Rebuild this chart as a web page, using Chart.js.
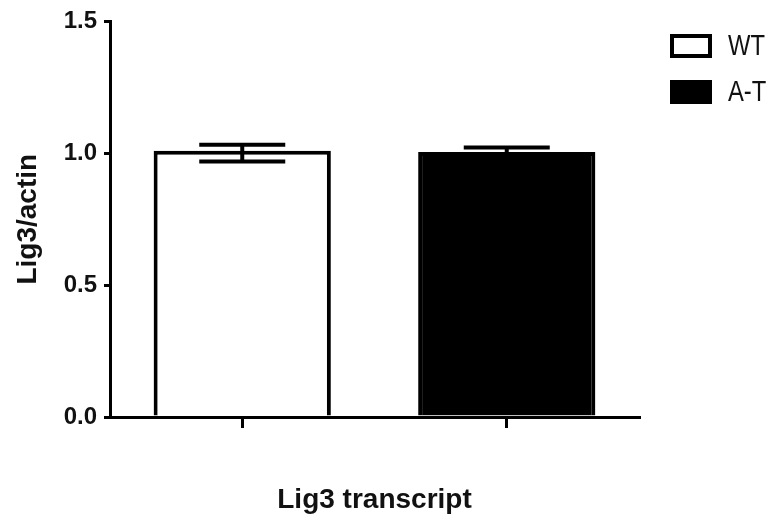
<!DOCTYPE html>
<html>
<head>
<meta charset="utf-8">
<script src="https://cdn.jsdelivr.net/npm/chart.js@4/dist/chart.umd.min.js"></script>
<style>
html,body{margin:0;padding:0;background:#fff;}
#wrap{width:779px;height:527px;position:relative;}
</style>
</head>
<body>
<div id="wrap"><canvas id="c" width="779" height="527"></canvas></div>
<script>
const groups = ['WT', 'A-T'];
const values = [1.01, 1.005];
const errHigh = [1.032, 1.022];
const errLow = [0.969, 0.988];
const fills = ['#ffffff', '#000000'];
const yTicks = [0, 0.5, 1.0, 1.5];
const xTitle = 'Lig3 transcript';
const yTitle = 'Lig3/actin';

const FONT = '"Liberation Sans", Arial, sans-serif';

const errorBars = {
  id: 'errorBars',
  afterDatasetsDraw(chart) {
    const ctx = chart.ctx;
    const meta = chart.getDatasetMeta(0);
    const ys = chart.scales.y;
    ctx.save();
    ctx.strokeStyle = '#000';
    ctx.lineWidth = 4;
    meta.data.forEach((bar, i) => {
      const x = bar.x;
      const yh = ys.getPixelForValue(errHigh[i]);
      const yl = ys.getPixelForValue(errLow[i]);
      const hw = 43;
      ctx.beginPath();
      ctx.moveTo(x - hw, yh); ctx.lineTo(x + hw, yh);
      ctx.moveTo(x - hw, yl); ctx.lineTo(x + hw, yl);
      ctx.moveTo(x, yh); ctx.lineTo(x, yl);
      ctx.stroke();
    });
    ctx.restore();
  }
};

const legendPlugin = {
  id: 'customLegend',
  afterDraw(chart) {
    const ctx = chart.ctx;
    const ds = chart.data.datasets[0];
    ctx.save();
    chart.data.labels.forEach((lab, i) => {
      const top = 34 + i * 46;
      const h = 24;
      ctx.fillStyle = ds.backgroundColor[i];
      ctx.fillRect(670, top, 42, h);
      ctx.strokeStyle = '#000';
      ctx.lineWidth = 4;
      ctx.strokeRect(672, top + 2, 38, h - 4);
      ctx.save();
      ctx.translate(728, top + h / 2 + 1);
      ctx.scale(0.82, 1);
      ctx.fillStyle = '#111';
      ctx.font = '29px "Liberation Sans", Arial, sans-serif';
      ctx.textBaseline = 'middle';
      ctx.textAlign = 'left';
      ctx.fillText(lab, 0, 0);
      ctx.restore();
    });
    ctx.restore();
  }
};

new Chart(document.getElementById('c'), {
  type: 'bar',
  data: {
    labels: groups,
    datasets: [{
      data: values,
      backgroundColor: fills,
      borderColor: '#000',
      borderWidth: 4,
      categoryPercentage: 1.0,
      barPercentage: 0.67
    }]
  },
  options: {
    responsive: false,
    animation: false,
    devicePixelRatio: 1,
    layout: { padding: { top: 20, right: 140, left: 0, bottom: 0 } },
    plugins: { legend: { display: false }, tooltip: { enabled: false } },
    scales: {
      x: {
        afterFit(s) { s.height = 110; },
        grid: { display: true, drawOnChartArea: false, offset: false, color: '#000', lineWidth: 3, tickLength: 11, drawTicks: true },
        border: { display: true, color: '#000', width: 3 },
        ticks: { display: true, callback: () => '', font: { size: 1 } },
        title: { display: true, text: xTitle, color: '#111', font: { family: FONT, size: 28, weight: 'bold' }, padding: { top: 0, bottom: 10 } }
      },
      y: {
        min: 0, max: 1.5,
        afterFit(s) { s.width = 110; },
        afterBuildTicks(s) { s.ticks = yTicks.map(v => ({ value: v })); },
        grid: { display: true, drawOnChartArea: false, color: '#000', lineWidth: 3, tickLength: 6 },
        border: { display: true, color: '#000', width: 3 },
        ticks: { color: '#111', padding: 7, font: { family: FONT, size: 24, weight: 'bold' }, callback: v => Number(v).toFixed(1) },
        title: { display: true, text: yTitle, color: '#111', font: { family: FONT, size: 28, weight: 'bold' }, padding: { top: 11, bottom: 0 } }
      }
    }
  },
  plugins: [errorBars, legendPlugin]
});
</script>
</body>
</html>
